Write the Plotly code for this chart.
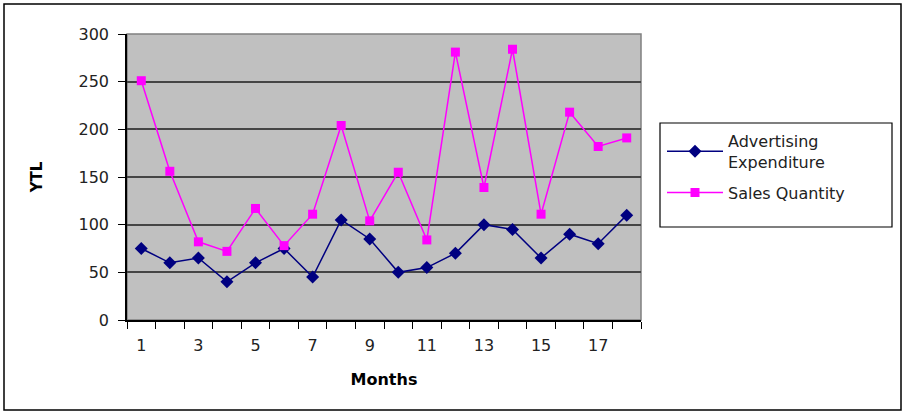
import plotly.graph_objects as go

months = list(range(1, 19))
advertising = [75, 60, 65, 40, 60, 75, 45, 105, 85, 50, 55, 70, 100, 95, 65, 90, 80, 110]
sales = [251, 156, 82, 72, 117, 78, 111, 204, 104, 155, 84, 281, 139, 284, 111, 218, 182, 191]
x_ticks = [1, 3, 5, 7, 9, 11, 13, 15, 17]

FONT = "DejaVu Sans, Liberation Sans, Arial, sans-serif"

fig = go.Figure()
fig.add_trace(go.Scatter(
    x=months, y=advertising, name="Advertising<br>Expenditure",
    mode="lines+markers", legendgroup="a",
    line=dict(color="#000080", width=1.5),
    marker=dict(symbol="diamond", size=10, color="#000080"),
))
fig.add_trace(go.Scatter(
    x=months, y=sales, name="Sales Quantity",
    mode="lines+markers", legendgroup="b",
    line=dict(color="#FF00FF", width=1.5),
    marker=dict(symbol="square", size=9, color="#FF00FF"),
))

L, R, T, B = 127, 266, 34, 97
pw, ph = 907 - L - R, 417 - T - B

def px(xp):
    return (xp - L) / pw

def py(yp):
    return (417 - B - yp) / ph

fig.update_layout(
    width=907, height=417,
    margin=dict(l=L, r=R, t=T, b=B),
    paper_bgcolor="white",
    plot_bgcolor="#C0C0C0",
    font=dict(family=FONT, size=15, color="#222222"),
    showlegend=True,
    legend=dict(
        x=px(662), y=py(124), xanchor="left", yanchor="top",
        borderwidth=0, bgcolor="rgba(0,0,0,0)",
        font=dict(family=FONT, size=16, color="#222222"),
        itemwidth=56, tracegroupgap=7,
    ),
    xaxis=dict(
        range=[0.5, 18.5], tickmode="array", tickvals=x_ticks,
        ticktext=[str(v) for v in x_ticks],
        ticks="", showgrid=False, zeroline=False,
        showline=True, linecolor="black", linewidth=1.5,
        minor=dict(tick0=0.5, dtick=1, ticks="outside", ticklen=7,
                   tickcolor="black", showgrid=False),
        tickfont=dict(size=16),
        ticklabelstandoff=10,
        title=dict(text="<b>Months</b>", font=dict(size=16, color="black"), standoff=20),
    ),
    yaxis=dict(
        range=[0, 300], dtick=50, ticks="outside", ticklen=7, tickcolor="black",
        showgrid=True, gridcolor="#454545", gridwidth=1.8, zeroline=False,
        showline=True, linecolor="black", linewidth=1.5,
        tickfont=dict(size=16),
        ticklabelstandoff=6,
        title=dict(text="<b>YTL</b>", font=dict(size=15, color="black"), standoff=32),
    ),
    shapes=[
        dict(type="rect", xref="paper", yref="paper", x0=0, x1=1, y0=0, y1=1,
             line=dict(color="#808080", width=1.5), layer="below"),
        dict(type="rect", xref="paper", yref="paper",
             x0=px(660), x1=px(892), y0=py(227), y1=py(123),
             line=dict(color="black", width=1.2)),
        dict(type="rect", xref="paper", yref="paper",
             x0=px(4), x1=px(901), y0=py(410), y1=py(4),
             line=dict(color="black", width=1.5)),
    ],
)

fig.write_html("out.html")
